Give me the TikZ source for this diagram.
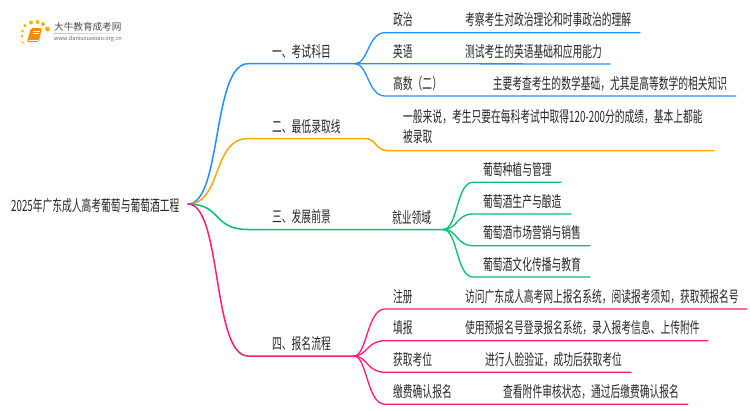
\documentclass[tikz,border=0pt]{standalone}
\usepackage{fontspec}
\setmainfont[FakeStretch=0.63]{Noto Sans CJK SC}
\newfontfamily\logofont{Noto Sans CJK SC}
\usetikzlibrary{calc, positioning}

\definecolor{kemu}{HTML}{1E90FF}
\definecolor{luqu}{HTML}{FFA800}
\definecolor{qianjing}{HTML}{00C070}
\definecolor{liucheng}{HTML}{FF1A7D}

\begin{document}
\begin{tikzpicture}[x=1pt, y=-1pt]
	\tikzstyle{word} = [anchor=west, inner sep=0pt, text=black!85, font=\fontsize{15.5}{20}\selectfont, align=left]
	\tikzstyle{branch} = [line width=1.5pt, line cap=round]
	\tikzstyle{twig} = [line width=1.3pt, line cap=round]
	\tikzstyle{dot} = [circle, inner sep=0pt, fill=orange!60!yellow, draw=none]

	\useasboundingbox (0, 0) rectangle (750, 410);

	% logo
	\node[dot, minimum size=3pt] at (22.5, 31) (d1) {};
	\node[dot, minimum size=3pt] at (22, 36) (d0) {};
	\node[dot, minimum size=2pt] at (23, 42.5) (d6) {};
	\node[dot, minimum size=3.5pt] at (25, 25.5) (d2) {};
	\node[dot, minimum size=4pt] at (31, 22.5) (d3) {};
	\node[dot, minimum size=4pt] at (37.5, 22) (d4) {};
	\node[dot, minimum size=4pt] at (43, 24) (d5) {};
	\node[dot, minimum size=5pt] at (47.5, 29) (d7) {};
	\fill[orange!90!yellow, rounded corners=1.5pt] (31, 28) -- (42, 28) -- (38.5, 42) -- (27, 42) -- cycle;
	\draw[white, line width=0.5pt] (33, 31) -- (39.5, 31) (32.5, 33.5) -- (39, 33.5);
	\draw[white, line width=0.5pt] (28.5, 40) -- (37.5, 40);
	\shade[left color=black!25, right color=white] (54, 33) rectangle (133, 33.6);
	\node[anchor=west, inner sep=0pt, text=black!70] at (54, 27) (logoname) {\logofont\fontsize{9.6}{10}\selectfont 大牛教育成考网};
	\node[anchor=west, inner sep=0pt, text=black!60] at (54, 38.7) (logourl) {\logofont\fontsize{5.6}{6}\selectfont www.daniuxuexiao.org.cn};

	% root and first level
	\node[word] at (11, 205.5) (root) {2025年广东成人高考葡萄与葡萄酒工程};
	\coordinate (start) at (188, 204);
	\node[word] at (272, 52) (k1) {一、考试科目};
	\node[word] at (272, 127) (k2) {二、最低录取线};
	\node[word] at (272, 217) (k3) {三、发展前景};
	\node[word] at (272, 344) (k4) {四、报名流程};
	\coordinate (j1a) at (248, 63.7);
	\coordinate (j1) at (355, 63.7);
	\coordinate (j2a) at (248, 138.5);
	\coordinate (j2b) at (365, 138.5);
	\coordinate (j2c) at (388, 150.7);
	\coordinate (j2) at (714, 150.7);
	\coordinate (j3a) at (248, 229.5);
	\coordinate (j3) at (443, 229.5);
	\coordinate (j4a) at (248, 356);
	\coordinate (j4) at (354, 356);

	\draw[branch, kemu] (start) .. controls (222, 204) and (212, 63.7) .. (j1a) -- (j1);
	\draw[branch, luqu] (start) .. controls (222, 204) and (212, 138.5) .. (j2a) -- (j2b) .. controls (376, 138.5) and (376, 150.7) .. (j2c) -- (j2);
	\draw[branch, qianjing] (start) .. controls (222, 204) and (212, 229.5) .. (j3a) -- (j3);
	\draw[branch, liucheng] (start) .. controls (222, 204) and (212, 356) .. (j4a) -- (j4);

	% blue leaves
	\node[word] at (393, 20) (a1) {政治};
	\node[word] at (465, 20) (a1t) {考察考生对政治理论和时事政治的理解};
	\node[word] at (393, 52) (a2) {英语};
	\node[word] at (465, 52) (a2t) {测试考生的英语基础和应用能力};
	\node[word] at (393, 84) (a3) {高数（二）};
	\node[word] at (492.7, 84) (a3t) {主要考查考生的数学基础，尤其是高等数学的相关知识};
	\coordinate (a1s) at (385, 32.7);
	\coordinate (a1e) at (640, 32.7);
	\coordinate (a2e) at (610, 64);
	\coordinate (a3s) at (385, 96);
	\coordinate (a3e) at (736, 96);
	\draw[twig, kemu] (j1) .. controls (368, 64) and (368, 32.7) .. (a1s) -- (a1e);
	\draw[twig, kemu] (j1) -- (a2e);
	\draw[twig, kemu] (j1) .. controls (368, 64) and (368, 96) .. (a3s) -- (a3e);

	% orange leaf
	\node[word] at (403, 127) (b1) {一般来说，考生只要在每科考试中取得120-200分的成绩，基本上都能\\被录取};

	% green leaves
	\node[word] at (392, 218) (c0) {就业领域};
	\node[word] at (483, 170) (c1) {葡萄种植与管理};
	\node[word] at (483, 202) (c2) {葡萄酒生产与酿造};
	\node[word] at (483, 233) (c3) {葡萄酒市场营销与销售};
	\node[word] at (483, 265) (c4) {葡萄酒文化传播与教育};
	\coordinate (c1s) at (473, 182.3);
	\coordinate (c1e) at (561, 182.3);
	\coordinate (c2s) at (473, 214);
	\coordinate (c2e) at (571, 214);
	\coordinate (c3s) at (473, 245.7);
	\coordinate (c3e) at (590, 245.7);
	\coordinate (c4s) at (473, 277);
	\coordinate (c4e) at (590, 277);
	\draw[twig, qianjing] (j3) .. controls (458, 229.5) and (456, 182.3) .. (c1s) -- (c1e);
	\draw[twig, qianjing] (j3) .. controls (458, 229.5) and (456, 214) .. (c2s) -- (c2e);
	\draw[twig, qianjing] (j3) .. controls (458, 229.5) and (456, 245.7) .. (c3s) -- (c3e);
	\draw[twig, qianjing] (j3) .. controls (458, 229.5) and (456, 277) .. (c4s) -- (c4e);

	% pink leaves
	\node[word] at (393, 297) (d1w) {注册};
	\node[word] at (465, 297) (d1t) {访问广东成人高考网上报名系统，阅读报考须知，获取预报名号};
	\node[word] at (393, 328) (d2w) {填报};
	\node[word] at (465, 328) (d2t) {使用预报名号登录报名系统，录入报考信息、上传附件};
	\node[word] at (393, 360) (d3w) {获取考位};
	\node[word] at (485, 360) (d3t) {进行人脸验证，成功后获取考位};
	\node[word] at (393, 392) (d4w) {缴费确认报名};
	\node[word] at (503, 392) (d4t) {查看附件审核状态，通过后缴费确认报名};
	\coordinate (d1s) at (385, 309);
	\coordinate (d1e) at (747, 309);
	\coordinate (d2s) at (385, 340.7);
	\coordinate (d2e) at (708, 340.7);
	\coordinate (d3s) at (385, 372.3);
	\coordinate (d3e) at (631, 372.3);
	\coordinate (d4s) at (385, 404.3);
	\coordinate (d4e) at (688, 404.3);
	\draw[twig, liucheng] (j4) .. controls (367, 356) and (367, 309) .. (d1s) -- (d1e);
	\draw[twig, liucheng] (j4) .. controls (367, 356) and (367, 340.7) .. (d2s) -- (d2e);
	\draw[twig, liucheng] (j4) .. controls (367, 356) and (367, 372.3) .. (d3s) -- (d3e);
	\draw[twig, liucheng] (j4) .. controls (367, 356) and (367, 404.3) .. (d4s) -- (d4e);
\end{tikzpicture}
\end{document}
